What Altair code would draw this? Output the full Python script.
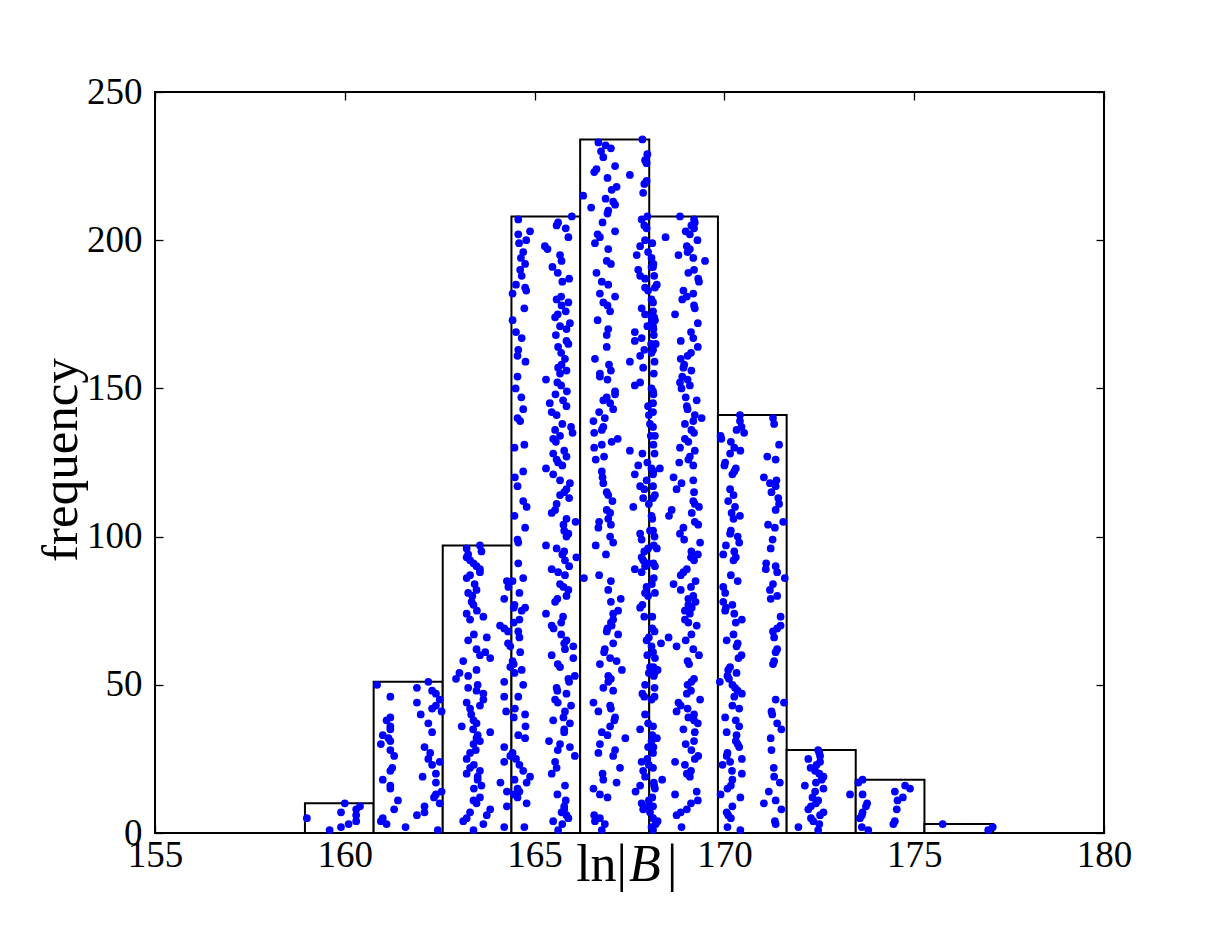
import altair as alt
import pandas as pd

# ---------------- data ----------------
bin_edges = [158.95, 160.76, 162.58, 164.39, 166.20, 168.02, 169.83, 171.64, 173.46, 175.27, 177.08]
bin_counts = [10, 51, 97, 208, 234, 208, 141, 28, 18, 3]

# sample values per bin, listed bottom-up (the k-th value is drawn at height k)
bin1_x = [159.6, 159.9, 160.1, 160.3, 159.0, 160.3, 159.9, 160.3, 160.4, 160.0]

bin2_x = [162.45, 161.6, 161.1, 160.95, 161.0, 161.9, 162.1, 161.3, 162.1, 162.5,
          161.4, 162.35, 162.4, 162.55, 161.2, 161.2, 162.4, 161.0, 162.05, 162.4,
          161.2, 161.25, 162.3, 162.5, 162.2, 161.3, 162.25, 161.2, 162.1, 160.95,
          161.2, 161.15, 161.0, 162.3, 161.2, 161.2, 162.2, 161.1, 161.2, 162.0,
          162.55, 162.3, 162.4, 161.9, 162.5, 161.2, 162.4, 162.3, 161.9, 160.85,
          162.2]

bin3_x = [163.39, 164.2, 163.65, 163.12, 163.21, 163.74, 163.3, 163.83, 164.27, 163.47,
          163.39, 163.56, 164.45, 164.27, 163.4, 163.6, 164.1, 163.5, 163.5, 163.21,
          163.56, 163.3, 163.4, 164.2, 163.21, 164.36, 163.3, 163.45, 164.2, 163.39,
          163.56, 163.47, 163.5, 163.83, 163.38, 163.08, 163.47, 163.39, 164.45, 163.33,
          164.25, 163.3, 163.56, 163.21, 163.65, 164.2, 163.65, 163.47, 163.25, 163.5,
          164.2, 162.93, 163.25, 163.02, 163.47, 164.36, 164.45, 163.12, 163.83, 163.56,
          163.7, 163.47, 164.36, 164.3, 163.25, 163.74, 163.4, 164.3, 164.2, 164.09,
          164.45, 163.3, 163.65, 163.21, 163.48, 164.45, 163.39, 163.34, 164.2, 163.36,
          163.25, 163.47, 164.31, 163.42, 164.27, 163.21, 163.3, 163.56, 163.56, 163.47,
          163.39, 163.3, 163.21, 163.25, 163.6, 163.21, 163.56]

bin4_x = [165.62, 164.73, 165.73, 165.49, 165.89, 165.84, 165.71, 165.78, 165.78, 164.79,
          165.82, 164.55, 165.6, 164.6, 164.55, 165.80, 164.79, 164.47, 164.88, 165.45,
          164.70, 165.58, 164.6, 165.54, 164.51, 166.06, 164.42, 165.61, 165.93, 165.67,
          165.38, 164.75, 164.57, 165.78, 165.78, 164.76, 165.93, 165.49, 165.76, 164.75,
          165.80, 164.48, 165.96, 165.61, 165.54, 164.57, 165.84, 165.6, 165.58, 164.7,
          165.91, 165.89, 166.06, 164.47, 164.66, 165.67, 165.61, 164.42, 166.02, 165.45,
          164.62, 165.80, 166.02, 165.78, 165.84, 164.6, 165.70, 164.57, 165.5, 165.45,
          165.70, 164.6, 165.75, 165.3, 164.66, 164.75, 164.47, 165.54, 165.6, 165.84,
          164.6, 165.89, 165.76, 165.67, 164.42, 164.7, 165.80, 165.62, 165.45, 165.91,
          164.57, 165.80, 166.1, 165.73, 165.78, 165.58, 165.30, 164.57, 164.55, 165.84,
          165.89, 165.78, 164.75, 165.76, 166.08, 165.84, 164.47, 165.45, 165.54, 164.79,
          165.58, 164.7, 165.91, 165.67, 165.78, 165.84, 164.55, 165.93, 165.67, 164.48,
          165.49, 164.7, 165.30, 165.73, 165.62, 165.58, 165.84, 165.49, 165.78, 164.47,
          164.73, 165.56, 165.49, 165.67, 166.0, 165.54, 165.96, 165.73, 164.62, 164.55,
          165.58, 165.45, 164.70, 165.84, 165.40, 165.75, 164.65, 165.55, 165.85, 164.5,
          165.7, 165.6, 165.3, 164.55, 165.67, 165.84, 165.62, 165.71, 164.76, 165.80,
          164.55, 165.70, 164.57, 165.62, 165.89, 165.84, 164.66, 165.56, 164.51, 165.84,
          165.67, 165.93, 164.42, 165.54, 165.61, 165.82, 164.73, 165.71, 165.89, 165.58,
          165.70, 164.42, 164.78, 164.75, 164.51, 165.73, 165.91, 164.66, 165.61, 164.62,
          165.47, 164.75, 165.71, 164.64, 165.67, 164.70, 165.34, 165.27, 164.59, 164.78,
          165.89, 164.57, 164.88, 165.82, 165.58, 165.62, 164.57, 165.98]

bin5_x = [166.77, 168.08, 166.85, 166.59, 166.72, 166.57, 168.04, 167.86, 167.99, 167.82,
          168.01, 166.92, 166.72, 167.66, 166.55, 167.78, 167.16, 166.81, 167.91, 166.79,
          167.86, 167.25, 168.01, 167.82, 167.97, 167.07, 166.68, 167.12, 167.99, 166.72,
          168.08, 167.39, 166.92, 166.77, 167.78, 166.99, 167.99, 167.10, 167.12, 167.91,
          166.68, 167.01, 166.99, 166.55, 168.08, 167.89, 167.84, 167.07, 166.81, 167.91,
          166.94, 167.01, 166.94, 168.01, 167.30, 168.04, 166.72, 167.16, 166.99, 167.97,
          166.83, 166.85, 168.08, 167.07, 167.95, 168.01, 167.20, 166.90, 166.92, 167.03,
          167.01, 167.07, 167.89, 167.07, 167.20, 167.78, 167.84, 167.01, 167.27, 167.99,
          167.91, 166.94, 167.95, 168.09, 167.01, 166.30, 166.70, 167.82, 167.64, 167.91,
          167.99, 167.86, 167.82, 166.88, 167.89, 167.99, 166.61, 167.07, 167.82, 166.99,
          167.78, 168.04, 166.68, 167.01, 166.70, 166.94, 168.08, 166.99, 166.90, 167.60,
          168.01, 167.05, 167.86, 166.94, 166.90, 167.89, 167.78, 166.81, 167.95, 166.79,
          167.64, 166.77, 168.08, 167.73, 167.97, 166.61, 166.83, 167.84, 167.51, 166.57,
          166.77, 167.03, 167.19, 168.06, 166.57, 166.77, 166.81, 168.04, 166.55, 166.85,
          168.01, 166.70, 167.07, 167.99, 166.99, 166.81, 166.90, 167.12, 167.12, 168.08,
          167.64, 167.78, 166.92, 166.72,
          166.72, 167.01, 167.86, 166.96, 167.51, 166.59, 167.78, 168.08, 167.89, 166.90,
          168.07, 167.64, 167.82, 166.90, 167.64, 166.94, 167.97, 168.08, 166.66, 168.08,
          167.91, 166.99, 167.82, 166.92, 166.81, 168.08, 167.12, 166.72, 167.99, 167.91,
          166.94, 166.77, 167.91, 167.78, 166.63, 167.73, 168.08, 167.01, 166.90, 168.08,
          167.69, 167.99, 166.94, 167.78, 166.59, 167.91, 166.72, 166.66, 167.12, 167.95,
          167.89, 166.79, 167.82, 167.97, 166.92, 166.94, 166.49, 167.12, 167.07, 166.87,
          166.28, 167.86, 167.03, 167.16, 167.89, 167.95, 166.92, 167.51, 166.57, 166.63,
          167.12, 167.95, 167.91, 166.81, 167.97, 166.75, 167.01, 166.87, 166.68, 167.84]

bin6_x = [168.12, 168.87, 168.19, 168.24, 168.12, 168.74, 168.85, 169.01, 168.12, 169.12,
          169.30, 168.10, 168.70, 169.27, 168.17, 168.15, 168.14, 168.36, 169.09, 169.01,
          169.12, 168.12, 168.96, 168.70, 169.22, 169.31, 168.12, 169.13, 168.13, 168.98,
          169.20, 168.22, 168.10, 169.22, 168.92, 168.12, 169.30, 169.20, 169.05, 169.20,
          168.74, 169.03, 168.85, 168.79, 169.36, 168.16, 169.01, 169.12, 168.16, 169.03,
          169.13, 169.20, 168.14, 168.16, 168.24, 168.13, 169.07, 169.03, 168.17, 169.33,
          168.12, 169.18, 168.74, 168.33, 168.98, 168.53, 169.13, 168.16, 168.10, 169.27,
          169.05, 168.96,
          168.10, 169.09, 168.96, 169.14, 169.05, 169.24, 169.05, 169.18, 168.17, 168.85,
          169.12, 168.66, 169.24, 168.14, 168.85, 168.92, 169.01, 168.17, 168.13, 169.20,
          169.12, 169.30, 169.13, 168.22, 168.14, 169.36, 168.94, 168.16, 168.83, 168.12,
          168.92, 169.31, 169.22, 168.10, 168.54, 169.14, 168.61, 169.33, 169.22, 169.18,
          168.12, 168.17, 169.20, 168.74, 168.12, 168.87, 169.18, 168.66, 168.12, 168.13,
          168.30, 169.18, 168.81, 169.05, 169.09, 168.16, 169.22, 168.83, 168.13, 169.05,
          168.96, 168.17, 169.20, 169.13, 168.12, 168.96, 169.18, 169.40, 169.22, 168.12,
          169.03,
          169.01, 168.12, 169.27, 168.98, 168.13, 168.12, 168.87, 169.09, 168.83, 169.03,
          168.89, 168.14, 169.13, 168.92, 168.94, 168.16, 168.85, 169.03, 169.12, 168.12,
          169.30, 168.19, 168.85, 169.18, 168.14, 169.12, 168.13, 168.12, 169.30, 168.17,
          168.15, 168.70, 168.12, 169.22, 169.20, 168.12, 168.89, 169.01, 169.18, 168.92,
          168.17, 168.22, 169.33, 169.31, 168.15, 169.05, 169.20, 168.12, 168.13, 169.49,
          169.18, 168.79, 169.03, 169.09, 169.01, 168.10, 169.29, 168.45, 169.09, 168.98,
          169.20, 169.13, 169.22, 169.20, 168.83]

bin7_x = [170.42, 170.08, 171.35, 171.33, 170.17, 170.10, 170.06, 171.50, 170.21, 171.04,
          171.35, 170.42, 169.90, 171.17, 170.08, 170.17, 171.46, 170.21, 171.31, 170.46,
          170.20, 171.30,
          169.95, 170.15, 170.46, 170.06, 170.08, 171.24, 170.39, 170.35, 170.30, 171.22,
          170.32, 170.06, 171.50, 170.39, 171.39, 170.30, 170.02, 171.26, 171.24, 170.39,
          170.21, 171.57, 171.35, 170.26, 170.46, 170.35, 170.28, 170.21, 169.88, 170.12,
          170.08,
          170.32, 170.10, 170.15, 171.28, 171.31, 170.37, 170.45, 171.35, 171.39, 170.32,
          170.35, 170.06, 171.31, 170.24, 171.28, 171.39, 171.48,
          170.30, 170.46, 171.48, 170.26, 170.02, 170.04, 170.21, 169.97, 171.22, 171.39,
          170.02, 171.20, 169.97, 171.28, 170.35, 171.59, 170.17, 171.39, 171.09, 171.35,
          171.10,
          170.24, 170.30, 169.97, 170.26, 171.22, 170.04, 170.39, 171.27, 170.35, 170.15,
          170.17, 171.33, 171.15, 171.55, 170.24, 170.41, 170.19, 171.35, 170.28, 171.44,
          170.10,
          171.42, 170.24, 171.24, 170.15, 171.35, 171.20, 171.37, 171.04, 170.21, 170.26,
          170.30, 170.00, 170.02, 171.35, 171.13, 170.15, 170.42, 170.26, 171.44, 170.17,
          169.92, 169.90, 170.52, 170.32, 170.45, 171.31, 170.41,
          171.28, 170.41]

bin8_x = [172.47, 171.95, 172.50, 172.34, 172.28, 172.52, 172.61, 172.21, 172.28, 172.41,
          172.47, 172.32, 173.31, 172.39, 172.61, 172.12, 172.41, 172.56, 172.61, 172.50,
          172.39, 172.27, 172.43, 172.52, 172.21, 172.52, 172.50, 172.47]

bin9_x = [173.79, 173.62, 174.45, 174.49, 173.57, 173.62, 173.64, 174.54, 173.73, 173.76,
          174.56, 174.70, 173.64, 174.49, 174.89, 174.76, 173.53, 173.64]

bin10_x = [176.95, 177.07, 175.75]

x_tick_values = [155, 160, 165, 170, 175, 180]
y_tick_values = [0, 50, 100, 150, 200, 250]
x_title_parts = ["ln|", "B", "|"]
y_title = "frequency"

# ---------------- tables ----------------
bars = pd.DataFrame({"left": bin_edges[:-1], "right": bin_edges[1:], "count": bin_counts})
rows = []
for xs in [bin1_x, bin2_x, bin3_x, bin4_x, bin5_x, bin6_x, bin7_x, bin8_x, bin9_x, bin10_x]:
    for k, v in enumerate(xs):
        rows.append({"value": v, "height": k + 1})
pts = pd.DataFrame(rows)

W, H = 949, 741
FONT = "Liberation Serif"
xs_ = alt.Scale(domain=[155, 180], nice=False, zero=False)
ys_ = alt.Scale(domain=[0, 250], nice=False, zero=True)

common_axis = dict(offset=-8, tickSize=8, domain=False, grid=False, tickColor="black",
                   tickWidth=1.3, title=None)

x_bottom = alt.Axis(orient="bottom", values=x_tick_values, labelFont=FONT, labelFontSize=37,
                    labelColor="black", labelPadding=4, labelFlush=False, labelOverlap=False,
                    format="d", **common_axis)
y_left = alt.Axis(orient="left", values=y_tick_values, labelFont=FONT, labelFontSize=37,
                  labelColor="black", labelPadding=13, labelOverlap=False, labelFlush=False,
                  format="d", **common_axis)
x_top = alt.Axis(orient="top", values=x_tick_values, labels=False, **common_axis)
y_right = alt.Axis(orient="right", values=y_tick_values, labels=False, **common_axis)

bar_layer = alt.Chart(bars).mark_rect(fill="white", stroke="black", strokeWidth=2).encode(
    x=alt.X("left:Q", scale=xs_, axis=x_bottom),
    x2="right:Q",
    y=alt.Y("count:Q", scale=ys_, axis=y_left),
    y2=alt.datum(0),
)

pt_layer = alt.Chart(pts).mark_circle(size=60, color="#0000ff", opacity=1).encode(
    x=alt.X("value:Q", scale=xs_, axis=x_top),
    y=alt.Y("height:Q", scale=ys_, axis=y_right),
)

t1 = alt.Chart(pd.DataFrame({"t": [x_title_parts[0]]})).mark_text(
    font=FONT, fontSize=52, align="right", baseline="alphabetic", color="black"
).encode(text="t:N", x=alt.value(472), y=alt.value(789))
t2 = alt.Chart(pd.DataFrame({"t": [x_title_parts[1]]})).mark_text(
    font=FONT, fontSize=52, fontStyle="italic", align="left", baseline="alphabetic", color="black"
).encode(text="t:N", x=alt.value(474), y=alt.value(789))
t3 = alt.Chart(pd.DataFrame({"t": [x_title_parts[2]]})).mark_text(
    font=FONT, fontSize=52, align="left", baseline="alphabetic", color="black"
).encode(text="t:N", x=alt.value(512), y=alt.value(789))
t4 = alt.Chart(pd.DataFrame({"t": [y_title]})).mark_text(
    font=FONT, fontSize=51, align="center", baseline="alphabetic", angle=270, color="black"
).encode(text="t:N", x=alt.value(-78), y=alt.value(368))

chart = alt.layer(bar_layer, pt_layer, t1, t2, t3, t4).resolve_axis(
    x="independent", y="independent"
).properties(
    width=W, height=H,
    autosize=alt.AutoSizeParams(type="none"),
    padding={"left": 155, "top": 92, "right": 123, "bottom": 94},
    background="white",
).configure_view(stroke="black", strokeWidth=2)

chart.save("out.html", embed_options={"renderer": "svg", "actions": False})
